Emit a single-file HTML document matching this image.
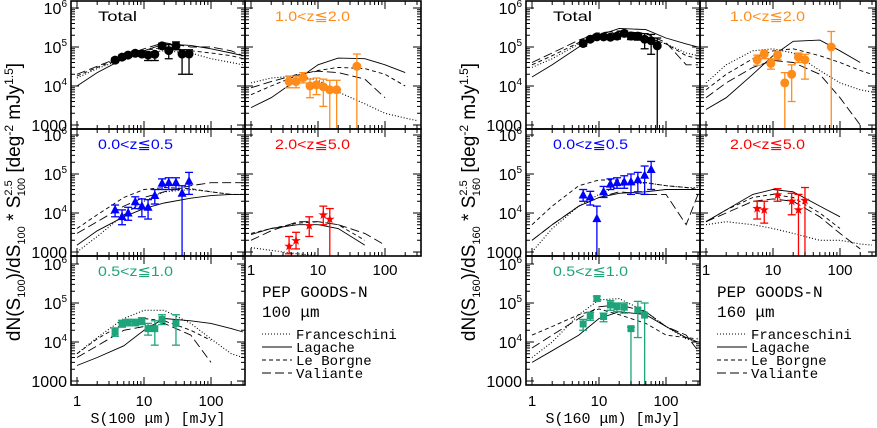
<!DOCTYPE html>
<html><head><meta charset="utf-8"><style>
html,body{margin:0;padding:0;background:#fff;}
svg{display:block;}
text{font-family:"Liberation Sans","DejaVu Sans",sans-serif;}
.mono{font-family:"Liberation Mono","DejaVu Sans Mono",monospace;}
</style></head><body>
<svg id="fig" width="877" height="428" viewBox="0 0 877 428" xmlns="http://www.w3.org/2000/svg"></svg>
<script>
// flux grid for model curves (mJy)
const modelFlux = [1,2,5,10,20,50,100,200,300];
// ---- 100 micron models ----
const m100_tot_fr = [1.6e4,2.8e4,5e4,7e4,8e4,7e4,5e4,4e4,3.5e4];
const m100_tot_la = [1e4,2.2e4,5e4,8e4,1.2e5,1.1e5,9e4,7e4,6e4];
const m100_tot_lb = [1.8e4,3e4,5.5e4,8e4,1e5,8e4,7e4,6e4,5e4];
const m100_tot_va = [2e4,3.2e4,6e4,9e4,1.3e5,1e5,1e5,8e4,6e4];
const m100_z12_fr = [1.2e4,1.6e4,1.8e4,1.4e4,7e3,3.5e3,2e3,1.5e3,1.3e3];
const m100_z12_la = [2.8e3,5e3,1.5e4,3.5e4,5.2e4,5e4,3.5e4,2.2e4,null];
const m100_z12_lb = [6e3,1e4,1.9e4,2.5e4,3e4,2.8e4,2e4,1e4,null];
const m100_z12_va = [9e3,1.3e4,2e4,2.4e4,2.2e4,1.5e4,5e3,null,null];
const m100_z005_fr = [1e3,2.5e3,9e3,2e4,3.5e4,4e4,3.5e4,3e4,3e4];
const m100_z005_la = [1.5e3,3.5e3,8e3,1.3e4,1.8e4,2.4e4,2.8e4,3e4,3e4];
const m100_z005_lb = [4e3,9e3,2.5e4,4e4,4.5e4,4.2e4,3.5e4,3e4,3e4];
const m100_z005_va = [3e3,6e3,1.5e4,2.5e4,3.5e4,5e4,6e4,6e4,6e4];
const m100_z25_fr = [1.3e3,1.1e3,900,800,null,null,null,null,null];
const m100_z25_la = [2.8e3,4e3,5e3,5e3,4e3,1.5e3,null,null,null];
const m100_z25_lb = [3e3,4e3,5.5e3,6e3,5e3,2e3,null,null,null];
const m100_z25_va = [2e3,3.5e3,6e3,6e3,5e3,3e3,1.5e3,null,null];
const m100_z051_fr = [5e3,1.3e4,4e4,6.5e4,6.5e4,3e4,1.2e4,5e3,4e3];
const m100_z051_la = [2.5e3,4e3,8e3,2e4,4e4,3.5e4,3e4,2.2e4,1.8e4];
const m100_z051_lb = [5e3,1.2e4,3e4,4e4,3.5e4,2e4,1.1e4,null,null];
const m100_z051_va = [4e3,8e3,2e4,2.5e4,3e4,1.5e4,3e3,null,null];
// ---- 160 micron models ----
const m160_tot_fr = [3e4,5e4,1.2e5,2e5,2.3e5,1.8e5,1.2e5,7e4,6e4];
const m160_tot_la = [1.7e4,3.5e4,1e5,2e5,3e5,2.8e5,1.7e5,1.2e5,1e5];
const m160_tot_lb = [3.5e4,6e4,1.3e5,2e5,2.5e5,1.8e5,1.2e5,6e4,5e4];
const m160_tot_va = [4e4,7e4,1.5e5,2.3e5,2.6e5,2.2e5,1.3e5,3.5e4,3.5e4];
const m160_z12_fr = [1.2e4,3.5e4,8e4,9e4,7e4,2.5e4,1.2e4,8e3,7e3];
const m160_z12_la = [2.5e3,5e3,2e4,6e4,1.4e5,1.5e5,8e4,4e4,null];
const m160_z12_lb = [8e3,2e4,5e4,8e4,9e4,6e4,4e4,2.5e4,2e4];
const m160_z12_va = [5e3,1.2e4,3e4,4.5e4,4e4,2e4,5e3,1e3,null];
const m160_z005_fr = [1e3,4e3,1.5e4,3e4,5e4,6e4,5e4,4.5e4,4.5e4];
const m160_z005_la = [2e3,5e3,1.5e4,2.5e4,3.2e4,3.5e4,4e4,4e4,4e4];
const m160_z005_lb = [5e3,1.5e4,5e4,7e4,7e4,6e4,5e4,4.5e4,4e4];
const m160_z005_va = [2e3,5e3,1.5e4,2.5e4,3.5e4,3e4,3e4,5e3,3e4];
const m160_z25_fr = [5e3,6e3,5e3,4e3,3e3,2e3,2e3,1.6e3,1.5e3];
const m160_z25_la = [6e3,1.2e4,3e4,4e4,3.5e4,1.5e4,8e3,null,null];
const m160_z25_lb = [6e3,1.2e4,2.5e4,3e4,2.5e4,1e4,4e3,null,null];
const m160_z25_va = [6e3,1e4,2e4,2.3e4,2e4,8e3,3e3,1.2e3,null];
const m160_z051_fr = [4e3,1e4,5e4,1.2e5,1.3e5,6e4,2.5e4,1.2e4,1e4];
const m160_z051_la = [3e3,6e3,1.5e4,4e4,6e4,5e4,2.5e4,1.3e4,1e4];
const m160_z051_lb = [1.5e4,2.5e4,5e4,7e4,5e4,3e4,1.5e4,1.3e4,1.2e4];
const m160_z051_va = [7e3,1.5e4,4e4,8e4,9e4,6e4,2.5e4,1.5e4,6e3];
// ---- 100 micron data (flux, value, lower, upper; lower 0 = to axis) ----
const d100_tot_S = [3.7,4.7,5.8,7.4,9.3,11.5,14.5,18.6,23.4,30,37,47];
const d100_tot_V = [4.6e4,5.5e4,6.2e4,6.9e4,6.6e4,6.2e4,6.5e4,1.07e5,8.1e4,1.07e5,6.6e4,6.6e4];
const d100_tot_lo = [4e4,4.8e4,5.5e4,6e4,5.8e4,4.5e4,4.5e4,9e4,5e4,8.5e4,2e4,2e4];
const d100_tot_hi = [5.2e4,6.2e4,7e4,7.8e4,7.5e4,7e4,7.5e4,1.25e5,1.15e5,1.35e5,8.5e4,8.5e4];
const d100_z12_S = [3.7,4.7,6,7.6,9.5,12,15,19,38];
const d100_z12_V = [1.3e4,1.3e4,1.65e4,1e4,1.07e4,9.5e3,8e3,8e3,3.2e4];
const d100_z12_lo = [9e3,9e3,1.2e4,5e3,6e3,3e3,0,0,0];
const d100_z12_hi = [1.8e4,1.8e4,2.2e4,1.5e4,1.6e4,1.5e4,1.4e4,1.4e4,6.6e4];
const d100_z005_S = [3.7,4.7,5.8,7.4,9.3,11.5,14.5,18.6,23.4,30,37,47];
const d100_z005_V = [1.2e4,8.1e3,1e4,1.95e4,1.5e4,1.4e4,2.8e4,5.8e4,6e4,6e4,3.2e4,6.5e4];
const d100_z005_lo = [8e3,5e3,6.5e3,1.3e4,8e3,7e3,1.7e4,4e4,4e4,4e4,0,3e4];
const d100_z005_hi = [1.6e4,1.2e4,1.4e4,2.6e4,2.3e4,2.2e4,4e4,7.5e4,8e4,8e4,5e4,1.1e5];
const d100_z25_S = [3.7,4.7,7.4,12,15];
const d100_z25_V = [1.4e3,1.95e3,4.7e3,8.9e3,6.9e3];
const d100_z25_lo = [900,1.2e3,2.5e3,5e3,0];
const d100_z25_hi = [2.5e3,3.2e3,8e3,1.5e4,1.3e4];
const d100_z051_S = [3.7,4.7,5.8,7.4,9.3,11.5,14.5,18.6,30];
const d100_z051_V = [1.8e4,3e4,3.2e4,3.2e4,3.5e4,2.2e4,2.2e4,3.8e4,3e4];
const d100_z051_lo = [1.4e4,2.4e4,2.6e4,2.6e4,2.8e4,1.5e4,8.3e3,2.8e4,8.3e3];
const d100_z051_hi = [2.3e4,3.6e4,3.8e4,3.8e4,4.2e4,3e4,3.5e4,5e4,5e4];
// ---- 160 micron data ----
const d160_tot_S = [5.8,7.4,9.3,11.7,14.8,18.6,23.8,30,38,48,60,74];
const d160_tot_V = [1.23e5,1.58e5,1.82e5,1.82e5,1.78e5,1.9e5,2.24e5,1.9e5,1.9e5,1.58e5,1.45e5,1.07e5];
const d160_tot_lo = [1.05e5,1.4e5,1.62e5,1.62e5,1.55e5,1.6e5,1.95e5,1.55e5,1.5e5,9e4,6.5e4,0];
const d160_tot_hi = [1.4e5,1.78e5,2.05e5,2.05e5,2e5,2.2e5,2.55e5,2.3e5,2.3e5,2.2e5,2.1e5,1.7e5];
const d160_z12_S = [5.8,7.4,9.3,11.7,15,19,24,30,74];
const d160_z12_V = [4.7e4,6.6e4,3.8e4,6.2e4,1.2e4,2e4,5.5e4,4.7e4,1e5];
const d160_z12_lo = [3.4e4,5e4,2.7e4,4.7e4,0,4e3,4e4,1.5e4,0];
const d160_z12_hi = [6.2e4,8e4,5e4,7.8e4,2.2e4,3.5e4,7e4,6.5e4,2.5e5];
const d160_z005_S = [5.8,7.4,9.3,11.7,14.8,18.6,23.8,30,38,48,60];
const d160_z005_V = [2.9e4,2.6e4,7.2e3,3.5e4,5.5e4,6e4,6.3e4,6.3e4,7.1e4,9.3e4,1.3e5];
const d160_z005_lo = [2e4,1.6e4,0,2.5e4,4e4,4.3e4,4.3e4,3e4,3.5e4,3e4,4e4];
const d160_z005_hi = [4e4,3.6e4,1.5e4,4.8e4,7.5e4,8e4,9e4,1e5,1.1e5,1.6e5,2.1e5];
const d160_z25_S = [5.8,7.4,11.7,19,24,30];
const d160_z25_V = [1.3e4,1.2e4,2.9e4,2e4,1.2e4,2.1e4];
const d160_z25_lo = [7e3,5.5e3,2e4,9e3,0,0];
const d160_z25_hi = [2e4,2e4,4.2e4,3.2e4,3e4,4.5e4];
const d160_z051_S = [5.8,7.4,9.3,11.7,14.8,18.6,23.8,30,38,48];
const d160_z051_V = [2.9e4,4.7e4,1.3e5,4.5e4,8.9e4,8e4,7.8e4,2.2e4,6.6e4,4.9e4];
const d160_z051_lo = [2e4,3.6e4,1.1e5,3.3e4,6.5e4,6e4,5.5e4,0,1.3e4,0];
const d160_z051_hi = [3.8e4,5.8e4,1.5e5,5.5e4,1.15e5,1e5,1e5,2.4e4,1.1e5,1e5];
// tick labels
const xTickVals = [1,10,100];
const xTickText = ["1","10","100"];
const yTickExp = [3,4,5,6];

const NS = "http://www.w3.org/2000/svg";
const svg = document.getElementById('fig');
function mk(tag, attrs, parent){const e=document.createElementNS(NS,tag);for(const k in attrs)e.setAttribute(k,attrs[k]);(parent||svg).appendChild(e);return e;}

const rowsT=[1,129,256], rowsB=[129,256,385];
function xS(S,L){return L+6+67*Math.log10(S);}
function yS(v,B){return B-4-39*(Math.log10(v)-3);}

const dash={fr:"1,2",la:"",lb:"4,3",va:"9,4"};
const colors={tot:"#000",z12:"#ff8c1a",z005:"#0000ff",z25:"#ff0000",z051:"#1fa37a"};
const labels={tot:"Total",z12:"1.0<z\u22662.0",z005:"0.0<z\u22660.5",z25:"2.0<z\u22665.0",z051:"0.5<z\u22661.0"};
const shapes={tot:"circle",z12:"circle",z005:"tri",z25:"star",z051:"square"};
const layout=[["tot",0,0],["z12",0,1],["z005",1,0],["z25",1,1],["z051",2,0]];
const models={"100":{tot:[m100_tot_fr,m100_tot_la,m100_tot_lb,m100_tot_va],z12:[m100_z12_fr,m100_z12_la,m100_z12_lb,m100_z12_va],z005:[m100_z005_fr,m100_z005_la,m100_z005_lb,m100_z005_va],z25:[m100_z25_fr,m100_z25_la,m100_z25_lb,m100_z25_va],z051:[m100_z051_fr,m100_z051_la,m100_z051_lb,m100_z051_va]},
"160":{tot:[m160_tot_fr,m160_tot_la,m160_tot_lb,m160_tot_va],z12:[m160_z12_fr,m160_z12_la,m160_z12_lb,m160_z12_va],z005:[m160_z005_fr,m160_z005_la,m160_z005_lb,m160_z005_va],z25:[m160_z25_fr,m160_z25_la,m160_z25_lb,m160_z25_va],z051:[m160_z051_fr,m160_z051_la,m160_z051_lb,m160_z051_va]}};
const datas={"100":{tot:[d100_tot_S,d100_tot_V,d100_tot_lo,d100_tot_hi],z12:[d100_z12_S,d100_z12_V,d100_z12_lo,d100_z12_hi],z005:[d100_z005_S,d100_z005_V,d100_z005_lo,d100_z005_hi],z25:[d100_z25_S,d100_z25_V,d100_z25_lo,d100_z25_hi],z051:[d100_z051_S,d100_z051_V,d100_z051_lo,d100_z051_hi]},
"160":{tot:[d160_tot_S,d160_tot_V,d160_tot_lo,d160_tot_hi],z12:[d160_z12_S,d160_z12_V,d160_z12_lo,d160_z12_hi],z005:[d160_z005_S,d160_z005_V,d160_z005_lo,d160_z005_hi],z25:[d160_z25_S,d160_z25_V,d160_z25_lo,d160_z25_hi],z051:[d160_z051_S,d160_z051_V,d160_z051_lo,d160_z051_hi]}};
const modelKeys=["fr","la","lb","va"];
const figs=[["100",71],["160",526]];
let clipId=0;

function marker(g,shape,x,y,c){
  let e;
  if(shape==="circle") e=mk('circle',{cx:x,cy:y,r:4.5,fill:c},g);
  else if(shape==="square") e=mk('rect',{x:x-3.5,y:y-3.5,width:7,height:7,fill:c},g);
  else if(shape==="tri") e=mk('polygon',{points:`${x},${y-5} ${x-4.5},${y+3.5} ${x+4.5},${y+3.5}`,fill:c},g);
  else {let p=[];for(let i=0;i<10;i++){const r=i%2?2:5;const a=-Math.PI/2+i*Math.PI/5;p.push((x+r*Math.cos(a)).toFixed(1)+","+(y+r*Math.sin(a)).toFixed(1));}
    e=mk('polygon',{points:p.join(' '),fill:c},g);}
  return e;
}

figs.forEach(([band,L0])=>{
  const fg=mk('g',{});
  
  
  layout.forEach(([key,r,c])=>{
    const L=L0+c*174, R=L+(c?176:174), T=rowsT[r], B=rowsB[r];
    const g=mk('g',{},fg);
    
    
    const cid='clip'+(clipId++);
    const cp=mk('clipPath',{id:cid},g); mk('rect',{x:L,y:T,width:R-L,height:B-T},cp);
    const inner=mk('g',{'clip-path':`url(#${cid})`},g);
    models[band][key].forEach((arr,mi)=>{
      let pts=[];
      arr.forEach((v,i)=>{ if(v!=null) pts.push(xS(modelFlux[i],L).toFixed(1)+","+yS(v,B).toFixed(1)); });
      const pl=mk('polyline',{points:pts.join(' '),fill:'none',stroke:'#000','stroke-width':mi===0?1.1:0.9,'stroke-dasharray':dash[modelKeys[mi]]},inner);
      
      
    });
    const [S,V,lo,hi]=datas[band][key]; const col=colors[key];
    S.forEach((s,i)=>{
      const x=xS(s,L), y=yS(V[i],B), y1=lo[i]>0?yS(lo[i],B):B+5, y2=yS(hi[i],B);
      const eb=mk('g',{stroke:col,'stroke-width':1.3},inner);
      
      
      mk('line',{x1:x,y1:y1,x2:x,y2:y2},eb);
      mk('line',{x1:x-4,y1:y2,x2:x+4,y2:y2},eb);
      if(lo[i]>0) mk('line',{x1:x-4,y1:y1,x2:x+4,y2:y1},eb);
      const m=marker(inner,shapes[key],x,y,col);
      
      
    });
    const fr=mk('rect',{x:L,y:T,width:R-L,height:B-T,fill:'none',stroke:'#000','stroke-width':1.6},g);
    
    
    let d="";
    for(let e=0;e<=2;e++) for(let k=1;k<=9;k++){const s=k*Math.pow(10,e);const x=xS(s,L);if(x>R-1)continue;const len=k===1?8:4;d+=`M${x.toFixed(1)},${B}v${-len}M${x.toFixed(1)},${T}v${len}`;}
    for(let e=3;e<=6;e++) for(let k=1;k<=9;k++){const v=k*Math.pow(10,e);const y=yS(v,B);if(y<T+1)continue;const len=k===1?8:4;d+=`M${L},${y.toFixed(1)}h${len}M${R},${y.toFixed(1)}h${-len}`;}
    const tk=mk('path',{d:d,stroke:'#000','stroke-width':1,fill:'none'},g);
    
    
    const t=mk('text',{x:L+(c?30:27),y:T+20,'font-size':14,fill:col},g);
    if(key!=='tot'){t.setAttribute('textLength',75);t.setAttribute('lengthAdjust','spacingAndGlyphs');}
    else{t.setAttribute('textLength',39);t.setAttribute('lengthAdjust','spacingAndGlyphs');}
    t.textContent=labels[key];
    
    
    if(c===0){
      yTickExp.forEach(ex=>{
        const y=yS(Math.pow(10,ex),B); if(y<T-5) return;
        const yt=mk('text',{x:L-4,y:y+6,'font-size':16,'text-anchor':'end'},g);
        
        
        if(ex===3){yt.textContent="1000";}
        else{const a=mk('tspan',{},yt);a.textContent="10";const b=mk('tspan',{'font-size':10,dy:-7},yt);b.textContent=String(ex);}
      });
    }
    if((r===2&&c===0)||(r===1&&c===1)){
      xTickVals.forEach((v,i)=>{
        const xt=mk('text',{x:xS(v,L),y:B+(r===2?21:19),'font-size':15,'text-anchor':'middle'},g);
        xt.textContent=xTickText[i];
        
        
      });
    }
  });
  const xt=mk('text',{x:L0+87,y:423,'font-size':15,'text-anchor':'middle','class':'mono'},fg);
  
  
  xt.textContent="S("+band+" \u03bcm) [mJy]";
  const yx=L0-51, yc=202;
  const yt=mk('text',{x:yx,y:yc,'font-size':19,'text-anchor':'middle',transform:`rotate(-90 ${yx} ${yc})`},fg);
  
  
  const parts=[["dN(S",0,0,19],[band,5,0,11],[")/dS",-5,0,19],[band,5,0,11],[" * S",-5,0,19],["2.5",-8,0,11],[band,13,-16,11],[" [deg",-5,0,19],["-2",-7,0,12],[" mJy",7,0,19],["1.5",-7,0,12],["]",7,0,19]];
  parts.forEach(([s,dy,dx,fs])=>{const sp=mk('tspan',{'font-size':fs},yt);if(dy)sp.setAttribute('dy',dy);if(dx)sp.setAttribute('dx',dx);sp.textContent=s;});
  const LL=L0+174;
  const lg=mk('g',{},fg);
  
  
  const t1=mk('text',{x:LL+17,y:297,'font-size':16,'class':'mono'},lg);t1.textContent="PEP GOODS-N";
  const t2=mk('text',{x:LL+17,y:317,'font-size':16,'class':'mono'},lg);t2.textContent=band+" \u03bcm";
  const names=["Franceschini","Lagache","Le Borgne","Valiante"];
  names.forEach((n,i)=>{
    const y=334+i*13;
    const e=mk('g',{},lg);
    
    
    mk('line',{x1:LL+17,x2:LL+47,y1:y,y2:y,stroke:'#000','stroke-width':1,'stroke-dasharray':dash[modelKeys[i]]},e);
    const tt=mk('text',{x:LL+51,y:y+5,'font-size':14,'class':'mono'},e);tt.textContent=n;
  });
});
</script>
</body></html>
